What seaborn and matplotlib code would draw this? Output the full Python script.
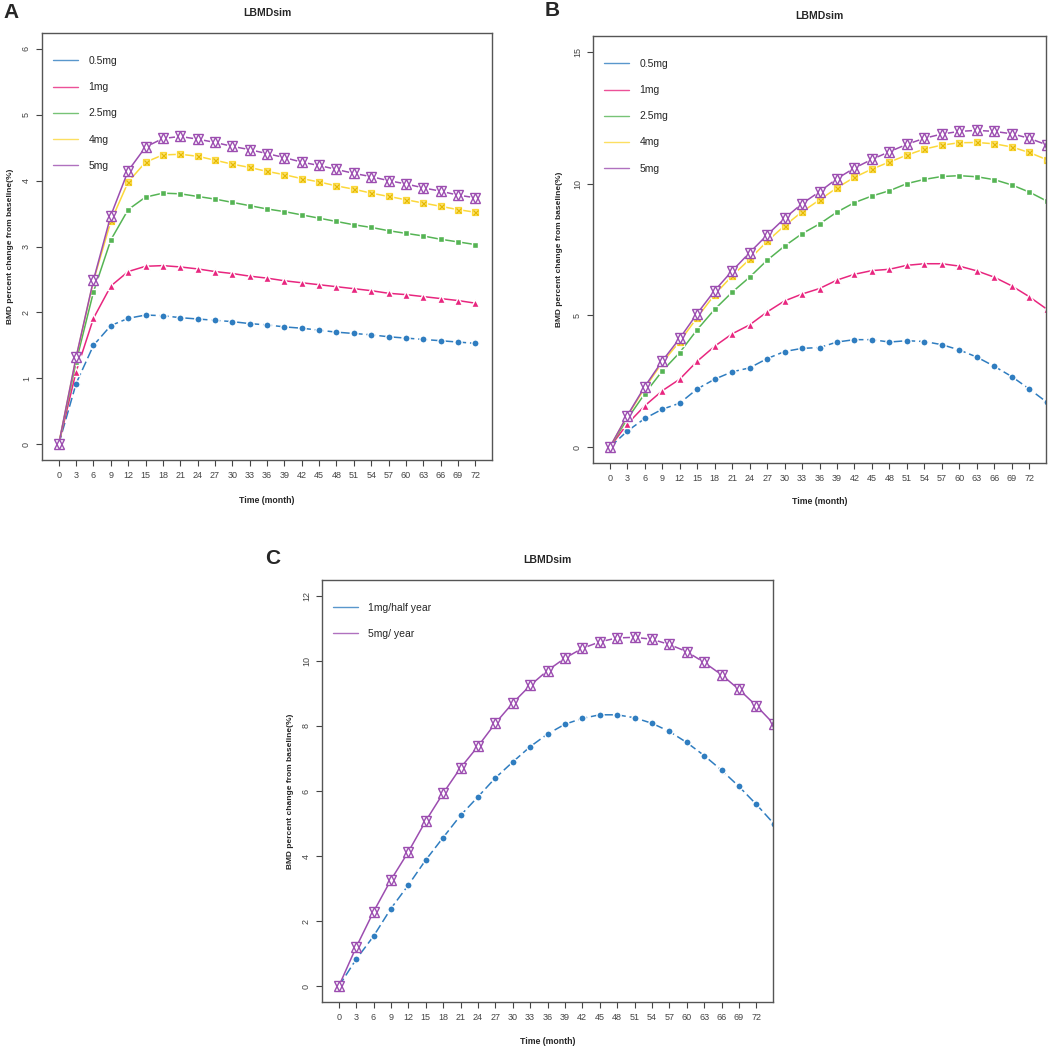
import matplotlib
matplotlib.use("Agg")
import matplotlib.pyplot as plt
import seaborn as sns
from matplotlib.lines import Line2D

sns.set_style("ticks")
plt.rcParams['font.family'] = ['Liberation Sans', 'DejaVu Sans']

# months
months_a = list(range(0, 73, 3))
months_bc = list(range(0, 76, 3))

# panel A: single dose, 0-72 months
a_05 = [0, 0.92, 1.50, 1.80, 1.91, 1.96, 1.95, 1.92, 1.90, 1.88, 1.86, 1.83, 1.81,
        1.78, 1.76, 1.73, 1.70, 1.68, 1.66, 1.63, 1.61, 1.59, 1.57, 1.55, 1.53]
a_1 = [0, 1.10, 1.91, 2.40, 2.62, 2.70, 2.71, 2.69, 2.66, 2.62, 2.59, 2.55, 2.52,
       2.48, 2.45, 2.42, 2.39, 2.36, 2.33, 2.29, 2.27, 2.24, 2.21, 2.18, 2.14]
a_25 = [0, 1.25, 2.31, 3.10, 3.56, 3.75, 3.81, 3.80, 3.76, 3.72, 3.67, 3.62, 3.57,
        3.53, 3.48, 3.43, 3.38, 3.33, 3.29, 3.24, 3.20, 3.16, 3.11, 3.07, 3.03]
a_4 = [0, 1.31, 2.48, 3.38, 3.98, 4.28, 4.39, 4.40, 4.37, 4.31, 4.25, 4.20, 4.14,
       4.09, 4.03, 3.98, 3.92, 3.87, 3.81, 3.76, 3.71, 3.66, 3.61, 3.56, 3.52]
a_5 = [0, 1.32, 2.49, 3.47, 4.15, 4.51, 4.64, 4.67, 4.63, 4.58, 4.52, 4.47, 4.41,
       4.35, 4.28, 4.23, 4.17, 4.11, 4.06, 4.00, 3.95, 3.89, 3.84, 3.78, 3.74]

# panel B: repeated dosing
b_05 = [0, 0.61, 1.09, 1.44, 1.67, 2.21, 2.58, 2.86, 3.01, 3.36, 3.63, 3.75, 3.78,
        3.99, 4.08, 4.08, 3.99, 4.04, 4.01, 3.89, 3.69, 3.42, 3.07, 2.68, 2.21, 1.71]
b_1 = [0, 0.88, 1.57, 2.14, 2.58, 3.26, 3.83, 4.30, 4.64, 5.13, 5.55, 5.81, 6.02,
       6.34, 6.56, 6.70, 6.75, 6.90, 6.96, 6.96, 6.87, 6.69, 6.45, 6.12, 5.71, 5.24]
b_25 = [0, 1.07, 2.03, 2.89, 3.59, 4.46, 5.23, 5.88, 6.45, 7.09, 7.63, 8.10, 8.47,
        8.92, 9.28, 9.53, 9.73, 10.00, 10.16, 10.27, 10.30, 10.26, 10.15, 9.95, 9.68, 9.34]
b_4 = [0, 1.18, 2.24, 3.21, 4.01, 4.92, 5.79, 6.50, 7.13, 7.81, 8.40, 8.93, 9.38,
       9.84, 10.24, 10.55, 10.82, 11.08, 11.31, 11.46, 11.55, 11.56, 11.51, 11.39, 11.18, 10.91]
b_5 = [0, 1.20, 2.30, 3.27, 4.13, 5.07, 5.94, 6.69, 7.38, 8.05, 8.68, 9.24, 9.69,
       10.19, 10.59, 10.92, 11.21, 11.49, 11.72, 11.88, 11.98, 12.02, 11.98, 11.89, 11.72, 11.47]

# panel C: regimen comparison
c_half = [0, 0.83, 1.54, 2.39, 3.11, 3.88, 4.57, 5.25, 5.82, 6.40, 6.89, 7.36, 7.75,
          8.05, 8.23, 8.34, 8.34, 8.25, 8.08, 7.83, 7.49, 7.09, 6.64, 6.14, 5.59, 5.00]
c_year = [0, 1.20, 2.29, 3.27, 4.13, 5.08, 5.93, 6.71, 7.37, 8.08, 8.70, 9.24, 9.70,
          10.08, 10.38, 10.58, 10.70, 10.72, 10.66, 10.50, 10.28, 9.95, 9.57, 9.12, 8.62, 8.06]

dose_labels = ["0.5mg", "1mg", "2.5mg", "4mg", "5mg"]
regimen_labels = ["1mg/half year", "5mg/ year"]

BLUE = "#2F7DC0"
PINK = "#E8267F"
GREEN = "#55B454"
YELLOW = "#FCD83A"
PURPLE = "#9C4DB0"


def draw_series(ax, x, y, color, kind, dashed=False):
    sns.lineplot(x=x, y=y, ax=ax, color=color, lw=1.1,
                 linestyle=(0, (6, 2.5)) if dashed else "-", legend=False)
    if kind == "circle":
        ax.plot(x, y, ls="none", marker="o", ms=5.2, mfc=color, mec="white", mew=1.0)
    elif kind == "tri":
        ax.plot(x, y, ls="none", marker="^", ms=5.8, mfc=color, mec="white", mew=1.0)
    elif kind == "square":
        ax.plot(x, y, ls="none", marker="s", ms=5.0, mfc=color, mec="white", mew=1.0)
    elif kind == "boxx":
        ax.plot(x, y, ls="none", marker="s", ms=5.4, mfc="#FBE37A", mec="white", mew=1.0)
        ax.plot(x, y, ls="none", marker="s", ms=4.4, mfc="none", mec=color, mew=0.9)
        ax.plot(x, y, ls="none", marker="x", ms=3.6, mec="#E5B900", mew=0.9)
    elif kind == "star":
        ax.plot(x, y, ls="none", marker="o", ms=8, mfc="white", mec="none")
        ax.plot(x, y, ls="none", marker="^", ms=6.6, mfc="none", mec=color, mew=1.0)
        ax.plot(x, y, ls="none", marker="v", ms=6.6, mfc="none", mec=color, mew=1.0)


def style_axes(ax, ymax, ystep, xlab_y, ylab_x):
    ax.set_xlim(-2.88, 74.88)
    ax.set_ylim(-0.04 * ymax, 1.04 * ymax)
    ax.set_xticks(range(0, 73, 3))
    ax.set_yticks([v * ystep for v in range(int(round(ymax / ystep)) + 1)])
    ax.tick_params(axis="both", direction="out", length=4, width=0.8, labelsize=6.5,
                   colors="#444444", pad=4)
    for lab in ax.get_yticklabels():
        lab.set_rotation(90)
        lab.set_va("center")
    for sp in ax.spines.values():
        sp.set_visible(True)
        sp.set_color("#555555")
        sp.set_linewidth(1.0)
    ax.set_xlabel("Time (month)", fontsize=6.3, fontweight="bold")
    ax.set_ylabel("BMD percent change from baseline(%)", fontsize=6.0, fontweight="bold")
    ax.xaxis.set_label_coords(0.5, xlab_y)
    ax.yaxis.set_label_coords(ylab_x, 0.5)
    ax.set_title("LBMDsim", fontsize=7.5, fontweight="bold", pad=12)


def add_legend(ax, labels, colors):
    handles = [Line2D([0], [0], color=c, lw=1.0, alpha=0.8) for c in colors]
    ax.legend(handles, labels, loc="upper left", bbox_to_anchor=(0.024, 0.946),
              frameon=False, fontsize=7.5, handlelength=2.4, handletextpad=1.0,
              labelspacing=1.55, borderpad=0, borderaxespad=0)


fig = plt.figure(figsize=(10.52, 10.49), dpi=100)
ax_a = fig.add_axes([0.040, 0.5615, 0.4277, 0.4070])
ax_b = fig.add_axes([0.5637, 0.5586, 0.4306, 0.4071])
ax_c = fig.add_axes([0.3061, 0.0448, 0.4287, 0.4023])

# A
draw_series(ax_a, months_a, a_05, BLUE, "circle", dashed=True)
draw_series(ax_a, months_a, a_1, PINK, "tri")
draw_series(ax_a, months_a, a_25, GREEN, "square")
draw_series(ax_a, months_a, a_4, YELLOW, "boxx")
draw_series(ax_a, months_a, a_5, PURPLE, "star")
style_axes(ax_a, 6, 1, -0.084, -0.062)
add_legend(ax_a, dose_labels, [BLUE, PINK, GREEN, YELLOW, PURPLE])

# B
draw_series(ax_b, months_bc, b_05, BLUE, "circle", dashed=True)
draw_series(ax_b, months_bc, b_1, PINK, "tri")
draw_series(ax_b, months_bc, b_25, GREEN, "square")
draw_series(ax_b, months_bc, b_4, YELLOW, "boxx")
draw_series(ax_b, months_bc, b_5, PURPLE, "star")
style_axes(ax_b, 15, 5, -0.08, -0.066)
add_legend(ax_b, dose_labels, [BLUE, PINK, GREEN, YELLOW, PURPLE])

# C
draw_series(ax_c, months_bc, c_half, BLUE, "circle", dashed=True)
draw_series(ax_c, months_bc, c_year, PURPLE, "star")
style_axes(ax_c, 12, 2, -0.083, -0.062)
add_legend(ax_c, regimen_labels, [BLUE, PURPLE])

fig.text(0.003, 0.988, "A", fontsize=15, fontweight="bold", va="center", ha="left")
fig.text(0.518, 0.990, "B", fontsize=15, fontweight="bold", va="center", ha="left")
fig.text(0.252, 0.468, "C", fontsize=15, fontweight="bold", va="center", ha="left")

fig.savefig("out.png", dpi=100)
